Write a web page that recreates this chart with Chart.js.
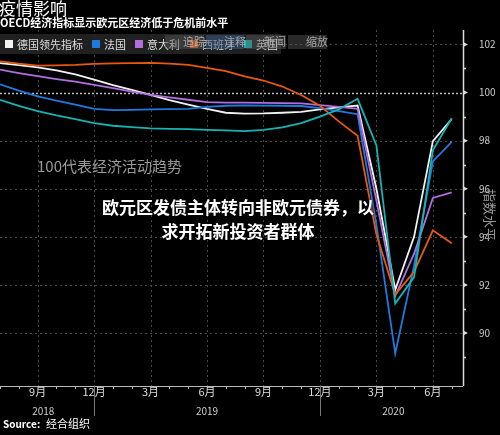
<!DOCTYPE html>
<html>
<head>
<meta charset="utf-8">
<script src="https://cdn.jsdelivr.net/npm/chart.js@4"></script>
<style>
  html, body { margin: 0; padding: 0; background: #000; }
  #wrap { width: 500px; height: 435px; position: relative; }
</style>
</head>
<body>
<div id="wrap"><canvas id="chart"></canvas></div>
<script>
// months 2018-07 .. 2020-07, one value per month
const monthLabels = ['7月','8月','9月','10月','11月','12月','1月','2月','3月','4月','5月','6月','7月','8月','9月','10月','11月','12月','1月','2月','3月','4月','5月','6月','7月'];
const germany = [101.22,101.14,101.05,100.92,100.76,100.54,100.31,100.11,99.9,99.68,99.5,99.32,99.16,99.12,99.13,99.16,99.2,99.3,99.38,99.46,96.0,91.8,94.0,97.98,98.9];
const france  = [100.34,100.08,99.84,99.66,99.5,99.32,99.27,99.28,99.3,99.31,99.32,99.4,99.45,99.47,99.46,99.45,99.44,99.35,99.23,99.1,94.5,89.15,92.8,97.14,97.95];
const italy   = [100.95,100.81,100.68,100.56,100.45,100.32,100.18,100.04,99.9,99.8,99.7,99.6,99.58,99.58,99.57,99.56,99.55,99.48,99.4,99.32,95.5,91.54,93.3,95.62,95.85];
const spain   = [101.3,101.2,101.12,101.13,101.15,101.19,101.21,101.22,101.23,101.2,101.15,101.03,100.89,100.67,100.5,100.25,99.9,99.45,98.8,98.2,94.1,91.6,92.55,94.27,93.73];
const uk      = [99.7,99.45,99.23,99.05,98.89,98.73,98.62,98.56,98.51,98.49,98.48,98.45,98.43,98.4,98.45,98.55,98.73,99.0,99.3,99.74,97.8,91.23,92.33,97.6,98.93];
const yTicks = [90, 92, 94, 96, 98, 100, 102];
const xTickIdx = [2, 5, 8, 11, 14, 17, 20, 23];
const years = [{ label: '2018', at: 2.3 }, { label: '2019', at: 11 }, { label: '2020', at: 20.9 }];
const yearBreaks = [5, 17];

const seriesNames = ['德国领先指标', '法国', '意大利', '西班牙', '英国'];
const seriesColors = ['#f2f2f2', '#1f7ae0', '#b06ee0', '#e8590c', '#17b3b3'];
const seriesData = [germany, france, italy, spain, uk];

const FONT = '"Noto Sans CJK SC", "Noto Sans", sans-serif';

const datasets = seriesData.map((vals, i) => ({
    label: seriesNames[i],
    data: vals.map((v, k) => ({ x: k, y: v })),
    borderColor: seriesColors[i],
    borderWidth: 1.8,
    pointRadius: 0,
    tension: 0,
    fill: false
}));
datasets.reverse();

// dotted grid drawn under the lines
const dottedGrid = {
    id: 'dottedGrid',
    beforeDatasetsDraw(chart) {
        const c = chart.ctx;
        const xs = chart.scales.x;
        const ys = chart.scales.y;
        const area = chart.chartArea;
        c.save();
        c.lineWidth = 1;
        c.setLineDash([2, 3]);
        c.strokeStyle = '#4a4a4a';
        c.beginPath();
        xTickIdx.forEach(k => {
            const px = Math.round(xs.getPixelForValue(k)) + 0.5;
            c.moveTo(px, area.top);
            c.lineTo(px, area.bottom);
        });
        yTicks.forEach(v => {
            if (v === 100) return;
            const py = Math.round(ys.getPixelForValue(v)) + 0.5;
            c.moveTo(area.left, py);
            c.lineTo(area.right, py);
        });
        c.stroke();
        c.strokeStyle = '#bbb';
        c.lineWidth = 1.5;
        c.setLineDash([2, 2]);
        c.beginPath();
        const p100 = Math.round(ys.getPixelForValue(100)) + 0.5;
        c.moveTo(area.left, p100);
        c.lineTo(area.right, p100);
        c.stroke();
        c.restore();
    }
};

const overlay = {
    id: 'overlay',
    afterDraw(chart) {
        const c = chart.ctx;
        const xs = chart.scales.x;
        const ys = chart.scales.y;
        const area = chart.chartArea;
        c.save();
        // right axis line with minor ticks
        c.strokeStyle = '#ddd';
        c.lineWidth = 1.5;
        c.beginPath();
        c.moveTo(area.right + 0.5, area.top);
        c.lineTo(area.right + 0.5, area.bottom);
        for (let v = 89; v <= 101; v += 2) {
            const py = Math.round(ys.getPixelForValue(v)) + 0.5;
            c.moveTo(area.right, py);
            c.lineTo(area.right + 3, py);
        }
        c.stroke();
        c.fillStyle = '#ddd';
        yTicks.forEach(v => {
            const py = ys.getPixelForValue(v);
            c.beginPath();
            c.moveTo(area.right, py - 2.5);
            c.lineTo(area.right + 5, py);
            c.lineTo(area.right, py + 2.5);
            c.fill();
        });
        // bottom axis line and month ticks
        c.strokeStyle = '#bbb';
        c.lineWidth = 1;
        c.beginPath();
        c.moveTo(0, area.bottom + 0.5);
        c.lineTo(area.right, area.bottom + 0.5);
        for (let k = 0; k < monthLabels.length; k++) {
            const px = Math.round(xs.getPixelForValue(k)) + 0.5;
            c.moveTo(px, area.bottom);
            c.lineTo(px, area.bottom + (xTickIdx.includes(k) ? 0 : 3));
        }
        c.stroke();
        c.strokeStyle = '#777';
        yearBreaks.forEach(k => {
            const px = Math.round(xs.getPixelForValue(k)) + 0.5;
            c.beginPath();
            c.moveTo(px, area.bottom);
            c.lineTo(px, area.bottom + 30);
            c.stroke();
        });
        // month and year labels
        c.fillStyle = '#ddd';
        c.font = '11px ' + FONT;
        c.textAlign = 'center';
        c.textBaseline = 'middle';
        xTickIdx.forEach(k => c.fillText(monthLabels[k], xs.getPixelForValue(k), area.bottom + 6));
        c.font = '10px ' + FONT;
        c.fillStyle = '#ccc';
        years.forEach(y => c.fillText(y.label, xs.getPixelForValue(y.at), area.bottom + 25));

        // titles
        c.textAlign = 'left';
        c.fillStyle = '#fff';
        c.font = '17px ' + FONT;
        c.fillText('疫情影响', -1, 9);
        c.font = 'bold 11px ' + FONT;
        c.fillText('OECD经济指标显示欧元区经济低于危机前水平', 0, 23);

        // legend box
        c.fillStyle = 'rgba(38,38,38,0.85)';
        c.fillRect(0, 34, 281, 20);
        c.font = '11px ' + FONT;
        const legendX = [5, 92, 135, 190, 244];
        seriesNames.forEach((n, i) => {
            c.fillStyle = seriesColors[i];
            c.fillRect(legendX[i], 40, 8, 8);
            c.fillStyle = '#ddd';
            c.fillText(n, legendX[i] + 12, 45);
        });
        // toolbar overlay
        const tools = [['追踪', 165, 205], ['注释', 206, 245], ['新闻', 246, 287], ['缩放', 288, 328]];
        tools.forEach((t, i) => {
            c.fillStyle = i === 1 ? 'rgba(60,90,130,0.55)' : 'rgba(90,90,90,0.45)';
            c.fillRect(t[1], 35, t[2] - t[1] - 1, 14);
            c.fillStyle = 'rgba(200,200,200,0.75)';
            c.fillText(t[0], t[1] + 18, 42);
        });

        // annotation
        c.fillStyle = '#9a9a9a';
        c.font = '15px ' + FONT;
        c.fillText('100代表经济活动趋势', 37, 166);

        // big headline
        c.fillStyle = '#fff';
        c.font = 'bold 17px ' + FONT;
        c.textAlign = 'center';
        c.shadowColor = 'rgba(0,0,0,0.9)';
        c.shadowBlur = 4;
        c.fillText('欧元区发债主体转向非欧元债券，以', 238, 208);
        c.fillText('求开拓新投资者群体', 238, 232);
        c.shadowBlur = 0;

        // right axis title
        c.fillStyle = '#999';
        c.font = '13px ' + FONT;
        c.translate(490, 215);
        c.rotate(Math.PI / 2);
        c.fillText('指数水平', 0, 0);
        c.rotate(-Math.PI / 2);
        c.translate(-490, -215);

        // source
        c.textAlign = 'left';
        c.fillStyle = '#fff';
        c.font = 'bold 10px ' + FONT;
        c.fillText('Source:', 3, 424);
        c.font = '11px ' + FONT;
        c.fillText('经合组织', 46, 424);
        c.restore();
    }
};

new Chart(document.getElementById('chart'), {
    type: 'line',
    data: { datasets: datasets },
    options: {
        responsive: true,
        maintainAspectRatio: false,
        animation: false,
        layout: { padding: { top: 30, left: 0, right: 0, bottom: 0 } },
        plugins: { legend: { display: false }, tooltip: { enabled: false } },
        scales: {
            x: {
                type: 'linear',
                min: 0,
                max: 24.6,
                afterBuildTicks: s => { s.ticks = xTickIdx.map(v => ({ value: v })); },
                afterFit: s => { s.height = 49; },
                ticks: { display: false },
                border: { display: false },
                grid: { display: false }
            },
            y: {
                position: 'right',
                min: 87.8,
                max: 102.6,
                afterBuildTicks: s => { s.ticks = yTicks.map(v => ({ value: v })); },
                afterFit: s => { s.width = 37; },
                border: { display: false },
                grid: { display: false },
                ticks: { color: '#ccc', padding: 8, font: { size: 10, family: FONT } }
            }
        }
    },
    plugins: [dottedGrid, overlay]
});
</script>
</body>
</html>
